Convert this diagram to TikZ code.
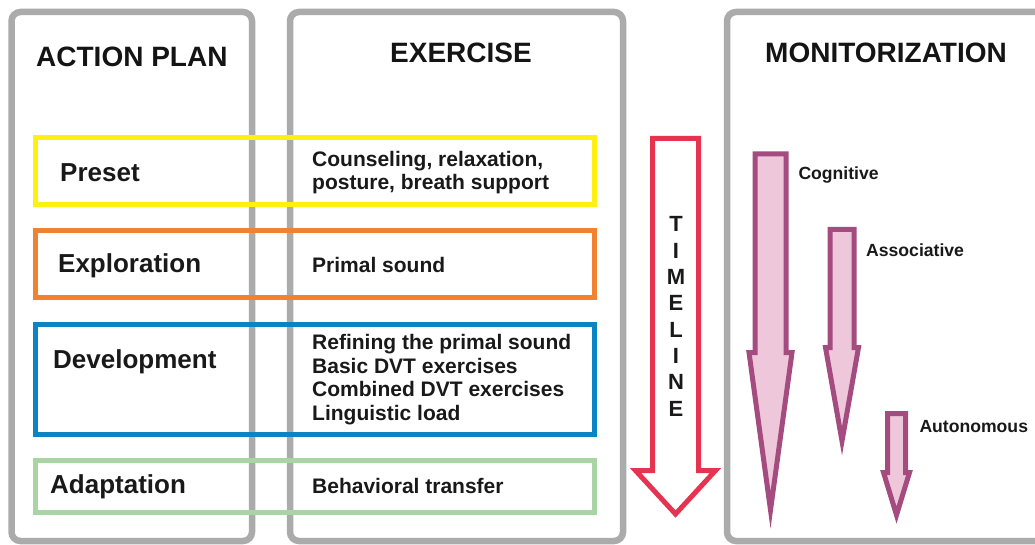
\documentclass[tikz,border=0pt]{standalone}
\usepackage{fontspec}
\setmainfont{Liberation Sans}
\usetikzlibrary{positioning}
\definecolor{colgray}{HTML}{ABABAB}
\definecolor{preyellow}{HTML}{FFF10F}
\definecolor{exporange}{HTML}{F08232}
\definecolor{devblue}{HTML}{0A84C4}
\definecolor{adagreen}{HTML}{A9D4A4}
\definecolor{timered}{HTML}{E6334F}
\definecolor{monpurple}{HTML}{A44C80}
\definecolor{monpink}{HTML}{EEC7DA}

\begin{document}
\begin{tikzpicture}[x=1pt,y=-1pt,
  column/.style={draw=colgray, line width=6.5pt, rounded corners=9pt},
  phase/.style={line width=5pt},
  heading/.style={font=\fontsize{28}{32}\selectfont\bfseries, anchor=base west, inner sep=0pt, text=black!92},
  stage/.style={font=\fontsize{26}{30}\selectfont\bfseries, anchor=base west, inner sep=0pt, text=black!90},
  task/.style={font=\fontsize{21}{23.5}\selectfont\bfseries, anchor=base west, inner sep=0pt, align=left, text=black!90},
  skill/.style={font=\fontsize{17.6}{20}\selectfont\bfseries, anchor=base west, inner sep=0pt, text=black!90},
  monarrow/.style={draw=monpurple, fill=monpink, line width=5pt}]
  \useasboundingbox (0,0) rectangle (1035,545);

  % columns
  \draw[column] (11.5,12) rectangle (252,541);
  \draw[column] (290,12) rectangle (623,541);
  \draw[column] (727,12) rectangle (1060,541);

  \node[heading] (plan) at (36,67) {ACTION PLAN};
  \node[heading] (exercise) at (390,63) {EXERCISE};
  \node[heading] (monitor) at (765,63) {MONITORIZATION};

  % phases
  \draw[phase, preyellow] (35.5,137.5) rectangle (594.5,205);
  \draw[phase, exporange] (35.5,230.5) rectangle (594.5,297.5);
  \draw[phase, devblue] (35.5,324.5) rectangle (594.5,434.5);
  \draw[phase, adagreen] (35.5,460.5) rectangle (594.5,512);

  \node[stage] (preset) at (60,182) {Preset};
  \node[stage] (explore) at (58,272) {Exploration};
  \node[stage] (develop) at (53,368) {Development};
  \node[stage] (adapt) at (50,493) {Adaptation};

  % base anchor = baseline of the last line
  \node[task] (counsel) at (312,190) {Counseling, relaxation,\\posture, breath support};
  \node[task] (primal) at (312,272) {Primal sound};
  \node[task] (refine) at (312,420) {Refining the primal sound\\Basic DVT exercises\\Combined DVT exercises\\Linguistic load};
  \node[task] (transfer) at (312,493) {Behavioral transfer};

  % timeline
  \draw[draw=timered, fill=white, line width=5pt]
    (652.5,138.5) -- (698.5,138.5) -- (698.5,470.5) -- (715.5,470.5)
    -- (675.5,514) -- (635.5,470.5) -- (652.5,470.5) -- cycle;
  \node[font=\fontsize{22}{26.3}\selectfont\bfseries, align=center, inner sep=0pt, anchor=base, text=black!90]
    (timeline) at (676,416) {T\\I\\M\\E\\L\\I\\N\\E};

  % learning stages
  \foreach \cx/\top/\hs/\hy/\hh/\tip in {770.5/154/15.5/352.5/21.5/510,
      842/229.5/12/347.5/16.5/441, 896.5/413.5/9/472.5/13/515}{
    \draw[monarrow] ({\cx-\hs},\top) -- ({\cx+\hs},\top) -- ({\cx+\hs},\hy)
      -- ({\cx+\hh},\hy) -- (\cx,\tip) -- ({\cx-\hh},\hy) -- ({\cx-\hs},\hy) -- cycle;
  }
  \node[skill] (cognitive) at (798.3,180) {Cognitive};
  \node[skill] (associative) at (866,257) {Associative};
  \node[skill] (autonomous) at (919.3,432) {Autonomous};
\end{tikzpicture}
\end{document}
